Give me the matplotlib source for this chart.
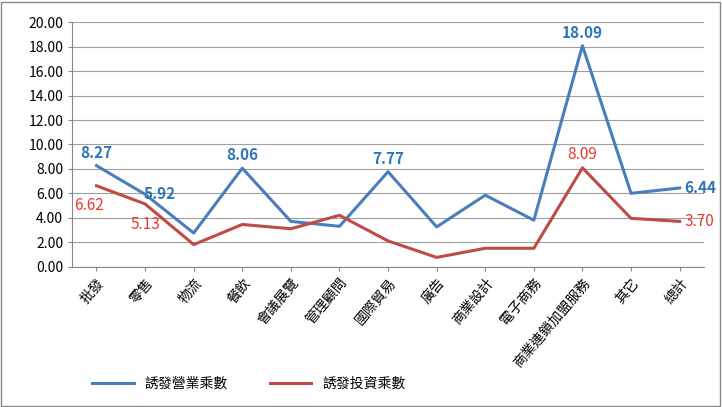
import matplotlib.pyplot as plt
from matplotlib.patches import Rectangle

plt.rcParams['font.family'] = ['Noto Sans CJK TC', 'DejaVu Sans']

categories = ['批發', '零售', '物流', '餐飲', '會議展覽', '管理顧問', '國際貿易', '廣告',
              '商業設計', '電子商務', '商業連鎖加盟服務', '其它', '總計']
business = [8.27, 5.92, 2.75, 8.06, 3.70, 3.30, 7.77, 3.25, 5.85, 3.80, 18.09, 6.00, 6.44]
invest = [6.62, 5.13, 1.80, 3.45, 3.10, 4.20, 2.10, 0.75, 1.50, 1.50, 8.09, 3.95, 3.70]

blue, red = '#4A7EBB', '#BE4B48'
fig = plt.figure(figsize=(7.22, 4.07), dpi=100)
ax = fig.add_axes([0.1, 0.345, 0.875, 0.6])
x = list(range(len(categories)))
ax.plot(x, business, color=blue, lw=2.2, label='誘發營業乘數')
ax.plot(x, invest, color=red, lw=2.2, label='誘發投資乘數')

ax.set_ylim(0, 20)
ax.set_yticks([i * 2 for i in range(11)])
ax.set_yticklabels([f'{i * 2:.2f}' for i in range(11)], fontsize=10)
ax.set_xlim(-0.5, len(categories) - 0.5)
ax.set_xticks(x)
ax.set_xticklabels(categories, rotation=50, ha='right', rotation_mode='anchor', fontsize=10)
ax.yaxis.grid(True, color='#A0A0A0', lw=0.8)
ax.set_axisbelow(True)
for s in ['top', 'right']:
    ax.spines[s].set_visible(False)
ax.spines['left'].set_color('#888888')
ax.spines['bottom'].set_color('#888888')
ax.tick_params(length=3, color='#888888')

bl = '#2E75B6'
rl = '#E8372C'
bkw = dict(color=bl, fontsize=11, fontweight='bold')
rkw = dict(color=rl, fontsize=11)
ax.text(0, business[0] + 0.4, f'{business[0]:.2f}', ha='center', va='bottom', **bkw)
ax.text(1.3, business[1], f'{business[1]:.2f}', ha='center', va='center', **bkw)
ax.text(3, business[3] + 0.4, f'{business[3]:.2f}', ha='center', va='bottom', **bkw)
ax.text(6, business[6] + 0.4, f'{business[6]:.2f}', ha='center', va='bottom', **bkw)
ax.text(10, business[10] + 0.4, f'{business[10]:.2f}', ha='center', va='bottom', **bkw)
ax.text(12.1, business[12], f'{business[12]:.2f}', ha='left', va='center', **bkw)
ax.text(-0.15, invest[0] - 0.9, f'{invest[0]:.2f}', ha='center', va='top', **rkw)
ax.text(1.0, invest[1] - 1.0, f'{invest[1]:.2f}', ha='center', va='top', **rkw)
ax.text(10, invest[10] + 0.4, f'{invest[10]:.2f}', ha='center', va='bottom', **rkw)
ax.text(12.1, invest[12], f'{invest[12]:.2f}', ha='left', va='center', **rkw)

fig.legend(loc='lower left', bbox_to_anchor=(0.11, 0.01), ncol=2, frameon=False,
           fontsize=10, handlelength=3, columnspacing=3)
fig.patches.append(Rectangle((0.002, 0.003), 0.995, 0.993, transform=fig.transFigure,
                             fill=False, edgecolor='#888888', lw=1))
fig.savefig('out.png', dpi=100)
